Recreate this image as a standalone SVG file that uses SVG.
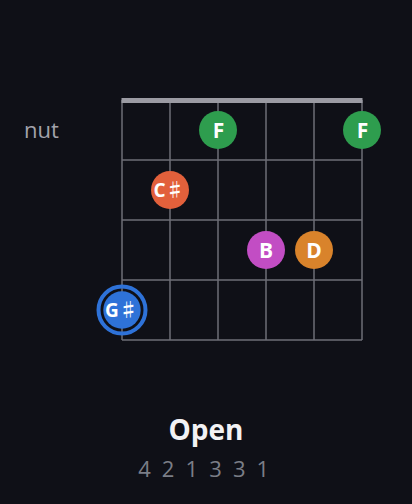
<svg xmlns="http://www.w3.org/2000/svg" width="412" height="504" viewBox="0 0 412 504">
<style>
.grid line{stroke:#6e6e77;stroke-width:1.5}
.note{font-family:"Open Sans","Noto Sans",sans-serif;font-weight:bold;font-size:21px;fill:#ffffff;text-anchor:middle}
.sm{font-size:19px}
.sh{font-family:"Noto Sans CJK SC",sans-serif}
.lbl{font-family:"Open Sans","Noto Sans",sans-serif;fill:#a3a3ab;font-size:22px}
</style>
<rect width="412" height="504" fill="#0f1017"/>
<g id="connectors" class="grid">
<line x1="122" y1="100" x2="122" y2="340"/>
<line x1="170" y1="100" x2="170" y2="340"/>
<line x1="218" y1="100" x2="218" y2="340"/>
<line x1="266" y1="100" x2="266" y2="340"/>
<line x1="314" y1="100" x2="314" y2="340"/>
<line x1="362" y1="100" x2="362" y2="340"/>
<line x1="122" y1="160" x2="362" y2="160"/>
<line x1="122" y1="220" x2="362" y2="220"/>
<line x1="122" y1="280" x2="362" y2="280"/>
<line x1="122" y1="340" x2="362" y2="340"/>
</g>
<g id="nut"><rect x="121.5" y="98" width="241" height="5" fill="#9b9ba3"/></g>
<g id="nut-label"><text class="lbl" x="24" y="138">nut</text></g>
<g id="note-F1"><circle cx="218" cy="130" r="19" fill="#2e9d4e"/><text class="note" x="218.5" y="137.5">F</text></g>
<g id="note-F2"><circle cx="362" cy="130" r="19" fill="#2e9d4e"/><text class="note" x="362.5" y="137.5">F</text></g>
<g id="note-Cs"><circle cx="170" cy="190" r="19" fill="#e2603b"/><text class="note sm" x="169" y="197">C<tspan class="sh">♯</tspan></text></g>
<g id="note-B"><circle cx="266" cy="250" r="19" fill="#c24dc4"/><text class="note" x="266" y="257.5">B</text></g>
<g id="note-D"><circle cx="314" cy="250" r="19" fill="#d9832b"/><text class="note" x="314" y="257.5">D</text></g>
<g id="note-Gs"><circle cx="122" cy="310" r="23.5" fill="none" stroke="#2e72d8" stroke-width="4"/><circle cx="122" cy="310" r="18.7" fill="#2e72d8"/><text class="note sm" x="121.5" y="317">G<tspan class="sh">♯</tspan></text></g>
<g id="title"><text x="206" y="440" font-family="Open Sans, Noto Sans, sans-serif" font-weight="bold" font-size="28" fill="#f2f2f4" text-anchor="middle">Open</text></g>
<g id="fingering"><text x="205" y="477" font-family="Open Sans, Noto Sans, sans-serif" font-size="22" fill="#7b7e87" text-anchor="middle" letter-spacing="2.7">4 2 1 3 3 1</text></g>
</svg>
